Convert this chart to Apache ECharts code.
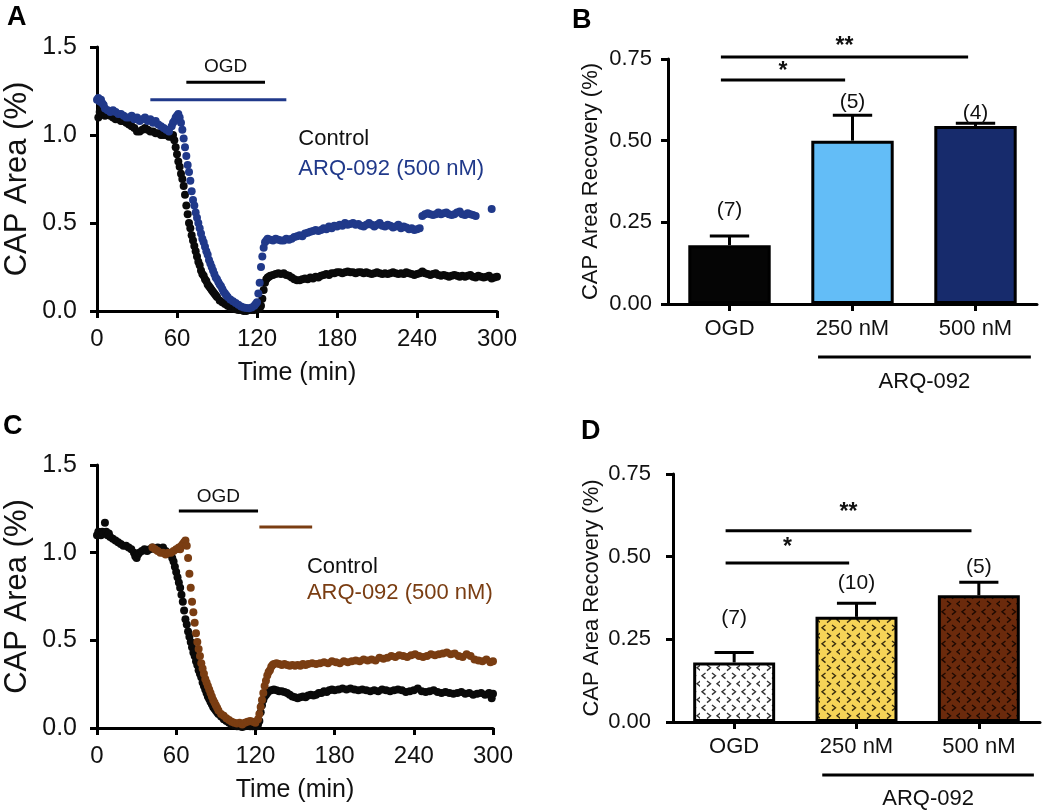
<!DOCTYPE html>
<html><head><meta charset="utf-8">
<script src="https://cdn.jsdelivr.net/npm/echarts@6/dist/echarts.min.js"></script>
<style>html,body{margin:0;padding:0;background:#fff}#c{width:1050px;height:810px}</style>
</head><body><div id="c"></div>
<script>
// ---------------- DATA ----------------
// Panel A traces: [time (min), CAP area]
const ctrlA = [[1,1.10],[2,1.13],[3,1.15],[4,1.12],[6,1.11],[8,1.12],[10,1.11],[12,1.10],[14,1.09],[16,1.09],[18,1.08],[20,1.08],[22,1.07],[24,1.06],[26,1.05],[28,1.04],[30,1.02],[32,1.02],[34,1.03],[36,1.04],[38,1.03],[40,1.02],[42,1.02],[44,1.01],[46,1.01],[48,1.00],[50,1.00],[52,1.00],[54,0.99],[56,0.99],[57,1.0],[58,0.97],[59,0.93],[60,0.89],[61,0.85],[62,0.82],[63,0.78],[64,0.75],[65,0.71],[66,0.66],[67,0.60],[68,0.55],[69,0.50],[70,0.47],[71,0.43],[72,0.40],[73,0.37],[74,0.34],[75,0.31],[76,0.28],[77,0.26],[78,0.23],[79,0.21],[80,0.20],[81,0.18],[82,0.17],[83,0.15],[84,0.14],[85,0.13],[86,0.12],[87,0.11],[88,0.10],[89,0.09],[90,0.08],[92,0.06],[94,0.05],[96,0.04],[98,0.03],[100,0.02],[102,0.015],[104,0.01],[106,0.005],[108,0.005],[110,0.0],[112,0.0],[114,0.005],[116,0.005],[118,0.005],[120,0.01],[121,0.01],[122,0.015],[123,0.03],[124,0.07],[125,0.12],[126,0.16],[127,0.18],[128,0.19],[129,0.195],[130,0.20],[132,0.205],[134,0.21],[136,0.215],[138,0.21],[140,0.215],[142,0.205],[144,0.20],[146,0.19],[148,0.18],[150,0.175],[152,0.175],[154,0.18],[156,0.185],[158,0.18],[160,0.19],[162,0.185],[164,0.195],[166,0.19],[168,0.20],[170,0.205],[172,0.21],[174,0.205],[176,0.215],[178,0.215],[180,0.22],[182,0.22],[184,0.215],[186,0.22],[188,0.225],[190,0.22],[192,0.22],[194,0.215],[196,0.22],[198,0.22],[200,0.215],[202,0.22],[204,0.215],[206,0.21],[208,0.215],[210,0.22],[212,0.215],[214,0.21],[216,0.215],[218,0.21],[220,0.215],[222,0.22],[224,0.215],[226,0.21],[228,0.215],[230,0.21],[232,0.22],[234,0.215],[236,0.21],[238,0.205],[240,0.21],[242,0.215],[244,0.225],[246,0.215],[248,0.21],[250,0.205],[252,0.21],[254,0.215],[256,0.205],[258,0.2],[260,0.205],[262,0.2],[264,0.195],[266,0.2],[268,0.205],[270,0.2],[272,0.195],[274,0.2],[276,0.195],[278,0.2],[280,0.205],[282,0.195],[284,0.19],[286,0.2],[288,0.195],[290,0.19],[292,0.195],[294,0.2],[296,0.185],[298,0.19],[300,0.195]];
const arqA = [[0,1.2],[1,1.21],[2,1.19],[3,1.2],[4,1.18],[5,1.17],[6,1.15],[8,1.14],[10,1.13],[12,1.14],[14,1.13],[16,1.12],[18,1.12],[20,1.11],[22,1.1],[24,1.1],[26,1.11],[28,1.09],[30,1.1],[32,1.08],[34,1.09],[36,1.1],[38,1.08],[40,1.09],[42,1.07],[44,1.08],[46,1.06],[48,1.05],[50,1.04],[52,1.03],[54,1.02],[56,1.05],[57,1.07],[58,1.08],[59,1.1],[60,1.11],[61,1.12],[62,1.1],[63,1.07],[64,1.03],[65,0.98],[66,0.93],[67,0.88],[68,0.83],[69,0.79],[70,0.74],[71,0.68],[72,0.63],[73,0.6],[74,0.56],[75,0.53],[76,0.5],[77,0.47],[78,0.44],[79,0.41],[80,0.39],[81,0.365],[82,0.34],[83,0.32],[84,0.29],[85,0.27],[86,0.25],[87,0.23],[88,0.21],[89,0.19],[90,0.18],[91,0.165],[92,0.15],[93,0.14],[94,0.125],[95,0.11],[96,0.1],[97,0.09],[98,0.08],[100,0.065],[102,0.055],[104,0.045],[106,0.035],[108,0.025],[110,0.02],[112,0.017],[114,0.015],[116,0.02],[118,0.03],[119,0.04],[120,0.05],[121,0.1],[122,0.16],[123,0.25],[124,0.31],[125,0.36],[126,0.39],[127,0.4],[128,0.41],[130,0.405],[132,0.4],[134,0.41],[136,0.405],[138,0.4],[140,0.4],[142,0.41],[144,0.405],[146,0.41],[148,0.42],[150,0.425],[152,0.43],[154,0.425],[156,0.44],[158,0.445],[160,0.45],[162,0.455],[164,0.46],[166,0.455],[168,0.46],[170,0.47],[172,0.465],[174,0.48],[176,0.47],[178,0.485],[180,0.48],[182,0.49],[184,0.485],[186,0.5],[188,0.49],[190,0.495],[192,0.5],[194,0.49],[196,0.495],[198,0.485],[200,0.48],[202,0.49],[204,0.5],[206,0.49],[208,0.48],[210,0.49],[212,0.5],[214,0.485],[216,0.48],[218,0.49],[220,0.485],[222,0.475],[224,0.48],[226,0.49],[228,0.47],[230,0.48],[232,0.475],[234,0.465],[236,0.47],[238,0.46],[240,0.465],[242,0.47],[244,0.54],[246,0.55],[248,0.555],[250,0.55],[252,0.545],[254,0.55],[256,0.56],[258,0.55],[260,0.555],[262,0.56],[264,0.55],[266,0.545],[268,0.55],[270,0.56],[272,0.565],[274,0.55],[276,0.545],[278,0.555],[280,0.55],[282,0.545],[284,0.54],[296,0.58]];
// Panel C traces
const ctrlC = [[0,1.1],[1,1.12],[2,1.11],[3,1.1],[4,1.12],[5,1.11],[6,1.17],[7,1.12],[8,1.1],[9,1.11],[10,1.09],[12,1.08],[14,1.07],[16,1.06],[18,1.05],[20,1.04],[22,1.04],[24,1.03],[26,1.02],[28,1.0],[29,0.98],[30,0.97],[31,0.99],[32,1.0],[34,1.01],[36,1.02],[38,1.01],[40,1.02],[42,1.03],[44,1.02],[46,1.03],[48,1.02],[50,1.03],[52,1.01],[54,1.0],[56,0.99],[57,0.97],[58,0.95],[59,0.92],[60,0.89],[61,0.86],[62,0.83],[63,0.8],[64,0.76],[65,0.72],[66,0.67],[67,0.62],[68,0.59],[69,0.55],[70,0.52],[71,0.49],[72,0.46],[73,0.43],[74,0.41],[75,0.38],[76,0.36],[77,0.33],[78,0.31],[79,0.29],[80,0.26],[81,0.24],[82,0.22],[83,0.2],[84,0.18],[85,0.165],[86,0.15],[87,0.135],[88,0.12],[89,0.11],[90,0.1],[91,0.09],[92,0.08],[94,0.065],[96,0.05],[98,0.04],[100,0.03],[102,0.02],[104,0.015],[106,0.01],[108,0.01],[110,0.005],[112,0.01],[114,0.015],[116,0.01],[118,0.01],[120,0.01],[121,0.01],[122,0.02],[123,0.04],[124,0.09],[125,0.13],[126,0.16],[127,0.18],[128,0.19],[129,0.2],[130,0.21],[132,0.215],[134,0.22],[136,0.215],[138,0.21],[140,0.21],[142,0.205],[144,0.2],[146,0.19],[148,0.18],[150,0.175],[152,0.17],[154,0.175],[156,0.18],[158,0.175],[160,0.185],[162,0.19],[164,0.185],[166,0.19],[168,0.2],[170,0.2],[172,0.21],[174,0.205],[176,0.215],[178,0.22],[180,0.215],[183,0.22],[186,0.225],[189,0.22],[192,0.225],[195,0.22],[198,0.215],[201,0.22],[204,0.215],[207,0.21],[210,0.215],[213,0.21],[216,0.22],[219,0.215],[222,0.21],[225,0.215],[228,0.22],[231,0.215],[234,0.205],[237,0.21],[240,0.215],[243,0.225],[246,0.21],[249,0.205],[252,0.21],[255,0.215],[258,0.205],[261,0.2],[264,0.205],[267,0.2],[270,0.195],[273,0.2],[276,0.205],[279,0.195],[282,0.2],[285,0.19],[288,0.195],[291,0.2],[294,0.19],[297,0.2],[299,0.17],[300,0.195]];
const arqC = [[42,1.03],[44,1.02],[46,1.01],[48,1.0],[50,1.0],[52,0.99],[54,1.0],[56,1.0],[58,1.01],[60,1.02],[62,1.03],[63,1.02],[64,1.04],[65,1.05],[66,1.06],[67,1.07],[68,1.04],[69,0.97],[70,0.88],[71,0.8],[72,0.72],[73,0.66],[74,0.6],[75,0.54],[76,0.49],[77,0.45],[78,0.41],[79,0.37],[80,0.34],[81,0.31],[82,0.28],[83,0.26],[84,0.24],[85,0.22],[86,0.2],[87,0.18],[88,0.16],[89,0.145],[90,0.13],[91,0.115],[92,0.1],[94,0.08],[96,0.07],[98,0.055],[100,0.045],[102,0.035],[104,0.03],[106,0.025],[108,0.03],[110,0.02],[112,0.03],[114,0.035],[116,0.04],[118,0.035],[120,0.03],[122,0.05],[123,0.08],[124,0.12],[125,0.16],[126,0.2],[127,0.24],[128,0.27],[129,0.3],[130,0.32],[131,0.33],[132,0.35],[133,0.36],[134,0.365],[136,0.37],[138,0.365],[140,0.36],[142,0.365],[144,0.36],[146,0.355],[148,0.36],[150,0.355],[152,0.36],[154,0.355],[156,0.365],[158,0.36],[160,0.365],[163,0.37],[166,0.365],[169,0.37],[172,0.375],[175,0.37],[178,0.38],[181,0.375],[184,0.37],[187,0.38],[190,0.375],[193,0.38],[196,0.385],[199,0.38],[202,0.39],[205,0.385],[208,0.39],[211,0.385],[214,0.4],[217,0.395],[220,0.4],[223,0.41],[226,0.405],[229,0.415],[232,0.41],[235,0.405],[238,0.415],[241,0.42],[244,0.41],[247,0.405],[250,0.41],[253,0.42],[256,0.415],[259,0.42],[262,0.425],[265,0.43],[268,0.42],[271,0.425],[274,0.41],[277,0.405],[280,0.42],[283,0.41],[286,0.39],[289,0.385],[292,0.38],[295,0.39],[298,0.375],[300,0.38]];
// Treatment periods (min)
const ogdPeriodA = [67, 126];
const drugPeriodA = [40, 142];
const ogdPeriodC = [62, 122];
const drugPeriodC = [123, 163];
// Bar panels
const doseCats = ['OGD', '250 nM', '500 nM'];
const recB = [0.18, 0.50, 0.545];
const semB = [0.028, 0.078, 0.008];
const nB = ['(7)', '(5)', '(4)'];
const recD = [0.18, 0.318, 0.383];
const semD = [0.03, 0.041, 0.04];
const nD = ['(7)', '(10)', '(5)'];
const sigPairs = [[0, 1, '*'], [0, 2, '**']];
const timeTickStep = 60;
const traceTickStep = 0.5;
const barTickStep = 0.25;

// ---------------- LAYOUT / STYLE ----------------
const FONT = '"Liberation Sans", Arial, Helvetica, sans-serif';
const BLACK = '#0a0a0a', BLUE = '#20398a', BROWN = '#7a3d12';
const LAYOUT = {
  legA: {x: 151, y1: 0.98, y2: 0.81, ogdY: 1.30, drugY: 1.20, ogdTextY: 1.385},
  legC: {x: 159, y1: 0.92, y2: 0.77, ogdY: 1.237, drugY: 1.146, ogdTextY: 1.32},
  B: {nY: [0.288, 0.618, 0.585], sigY: [0.686, 0.756], sigTextY: [0.712, 0.787], grpY: -0.162, grpTextY: -0.24},
  D: {nY: [0.315, 0.42, 0.469], sigY: [0.481, 0.578], sigTextY: [0.528, 0.632], grpY: -0.16, grpTextY: -0.232}
};

function chevronPattern(bg, fg) {
  const c = document.createElement('canvas'); c.width = 20; c.height = 16;
  const g = c.getContext('2d');
  g.fillStyle = bg; g.fillRect(0, 0, 20, 16);
  g.strokeStyle = fg; g.lineWidth = 1.4;
  const lt = (x, y) => { g.beginPath(); g.moveTo(x + 3.5, y); g.lineTo(x, y + 2.8); g.lineTo(x + 3.5, y + 5.6); g.stroke(); };
  const gt = (x, y) => { g.beginPath(); g.moveTo(x, y); g.lineTo(x + 3.5, y + 2.8); g.lineTo(x, y + 5.6); g.stroke(); };
  lt(2, 1); gt(12, 1); gt(7, 9); lt(17, 9);
  return {image: c, repeat: 'repeat'};
}

const axisLineS = {show: true, lineStyle: {color: '#000', width: 3}};
const axisTickS = {show: true, length: 7, lineStyle: {color: '#000', width: 3}};

function timeX(grid) {
  return {type: 'value', gridIndex: grid, min: 0, max: 300, interval: timeTickStep,
    name: 'Time (min)', nameLocation: 'middle', nameGap: 50,
    nameTextStyle: {fontSize: 25, color: '#111', fontFamily: FONT},
    axisLine: axisLineS, axisTick: axisTickS, splitLine: {show: false},
    axisLabel: {fontSize: 24, color: '#111', margin: 16, fontFamily: FONT}};
}
function traceY(grid) {
  return {type: 'value', gridIndex: grid, min: 0, max: 1.5, interval: traceTickStep,
    name: 'CAP Area (%)', nameLocation: 'middle', nameGap: 64,
    nameTextStyle: {fontSize: 31, color: '#111', fontFamily: FONT},
    axisLine: axisLineS, axisTick: axisTickS, splitLine: {show: false},
    axisLabel: {fontSize: 25, color: '#111', margin: 20, fontFamily: FONT, formatter: v => v.toFixed(1)}};
}
function catX(grid) {
  return {type: 'category', gridIndex: grid, data: doseCats,
    axisLine: axisLineS, axisTick: Object.assign({alignWithLabel: true}, axisTickS), splitLine: {show: false},
    axisLabel: {fontSize: 22, color: '#111', margin: 14, fontFamily: FONT}};
}
function barY(grid, gap, margin) {
  return {type: 'value', gridIndex: grid, min: 0, max: 0.75, interval: barTickStep,
    name: 'CAP Area Recovery (%)', nameLocation: 'middle', nameGap: gap,
    nameTextStyle: {fontSize: 22, color: '#111', fontFamily: FONT},
    axisLine: axisLineS, axisTick: axisTickS, splitLine: {show: false},
    axisLabel: {fontSize: 22, color: '#111', margin: margin, fontFamily: FONT, formatter: v => v.toFixed(2)}};
}

function ln(p0, p1, color, w) {
  return {type: 'line', shape: {x1: p0[0], y1: p0[1], x2: p1[0], y2: p1[1]}, style: {stroke: color, lineWidth: w}};
}
function tx(p, text, o) {
  return {type: 'text', x: p[0], y: p[1], style: Object.assign({text: text, fill: '#111', fontSize: 21, fontFamily: FONT,
    align: 'center', verticalAlign: 'middle'}, o || {})};
}
function annot(xi, yi, build) {
  return {type: 'custom', xAxisIndex: xi, yAxisIndex: yi, data: [[0, 0]], clip: false, silent: true, z: 10,
    renderItem: (params, api) => ({type: 'group', children: build(api)})};
}
function traceAnnot(xi, ogd, drug, drugColor, L) {
  return annot(xi, xi, api => {
    const c = (x, y) => api.coord([x, y]);
    return [
      ln(c(ogd[0], L.ogdY), c(ogd[1], L.ogdY), '#000', 3),
      ln(c(drug[0], L.drugY), c(drug[1], L.drugY), drugColor, 3),
      tx(c((ogd[0] + ogd[1]) / 2, L.ogdTextY), 'OGD', {fontSize: 19}),
      tx(c(L.x, L.y1), 'Control', {align: 'left', fill: '#111', fontSize: 22}),
      tx(c(L.x, L.y2), 'ARQ-092 (500 nM)', {align: 'left', fill: drugColor, fontSize: 22})
    ];
  });
}
function barAnnot(xi, means, sems, ns, L) {
  return annot(xi, xi, api => {
    const bw = api.size([1, 0])[0];
    const c = (i, f, y) => { const p = api.coord([i, y]); p[0] += f * bw; return p; };
    const out = [];
    means.forEach((m, i) => {
      const top = m + sems[i];
      out.push(ln(c(i, 0, m), c(i, 0, top), '#000', 3));
      out.push(ln(c(i, -0.16, top), c(i, 0.16, top), '#000', 3));
      out.push(tx(c(i, 0, L.nY[i]), ns[i], {fontSize: 21}));
    });
    sigPairs.forEach((s, k) => {
      const p0 = c(s[0], -0.07, L.sigY[k]), p1 = c(s[1], -0.06, L.sigY[k]);
      out.push(ln(p0, p1, '#000', 3));
      out.push(tx([(p0[0] + p1[0]) / 2, api.coord([0, L.sigTextY[k]])[1]], s[2], {fontSize: 23, fontWeight: 'bold'}));
    });
    const g0 = c(1, -0.28, L.grpY), g1 = c(2, 0.45, L.grpY);
    out.push(ln(g0, g1, '#000', 3));
    out.push(tx([(g0[0] + g1[0]) / 2, api.coord([0, L.grpTextY])[1]], 'ARQ-092', {fontSize: 22}));
    return out;
  });
}
function scatter(idx, data, color, z) {
  return {type: 'scatter', xAxisIndex: idx, yAxisIndex: idx, data: data, symbol: 'circle', symbolSize: 8,
    itemStyle: {color: color, opacity: 1}, z: z, silent: true, animation: false};
}
function bars(idx, vals, styles) {
  return {type: 'bar', xAxisIndex: idx, yAxisIndex: idx, barWidth: '67%', z: 3,
    data: vals.map((v, i) => ({value: v, itemStyle: Object.assign({borderColor: '#000', borderWidth: 3}, styles[i])})),
    silent: true, animation: false};
}

const chart = echarts.init(document.getElementById('c'), null, {renderer: 'canvas'});
const letter = (t, x, y) => ({type: 'text', left: x, top: y, style: {text: t, fontSize: 27, fontWeight: 'bold', fontFamily: FONT, fill: '#000'}});

chart.setOption({
  backgroundColor: '#fff',
  animation: false,
  grid: [
    {left: 97, top: 47, width: 400, height: 264},
    {left: 668, top: 59, width: 369, height: 245},
    {left: 97, top: 465, width: 396, height: 263},
    {left: 673, top: 474, width: 367, height: 248}
  ],
  xAxis: [timeX(0), catX(1), timeX(2), catX(3)],
  yAxis: [traceY(0), barY(1, 66, 16), traceY(2), barY(3, 70, 22)],
  graphic: [letter('A', 7, 4), letter('B', 572, 7), letter('C', 3, 413), letter('D', 581, 418)],
  series: [
    scatter(0, ctrlA, BLACK, 2),
    scatter(0, arqA, BLUE, 3),
    traceAnnot(0, ogdPeriodA, drugPeriodA, BLUE, LAYOUT.legA),
    bars(1, recB, [{color: '#050505'}, {color: '#63bdf7'}, {color: '#172b6c'}]),
    barAnnot(1, recB, semB, nB, LAYOUT.B),
    scatter(2, ctrlC, BLACK, 2),
    scatter(2, arqC, BROWN, 3),
    traceAnnot(2, ogdPeriodC, drugPeriodC, BROWN, LAYOUT.legC),
    bars(3, recD, [{color: chevronPattern('#ffffff', '#333')}, {color: chevronPattern('#f6d457', '#3a2e10')}, {color: chevronPattern('#6b2a0c', '#1e0a02')}]),
    barAnnot(3, recD, semD, nD, LAYOUT.D)
  ]
});
</script>
</body></html>
